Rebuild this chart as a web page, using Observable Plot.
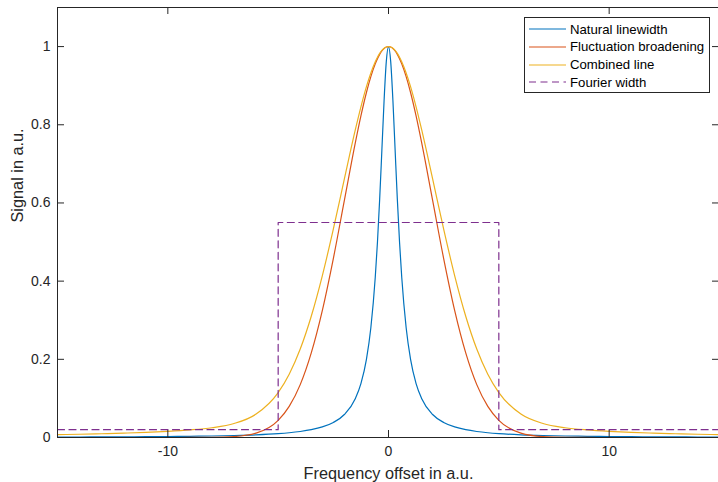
<!DOCTYPE html>
<html><head><meta charset="utf-8">
<script src="https://cdn.jsdelivr.net/npm/d3@7"></script>
<script src="https://cdn.jsdelivr.net/npm/@observablehq/plot@0.6"></script>
<style>
html,body{margin:0;padding:0;background:#fff;overflow:hidden}
#wrap{position:relative;width:718px;height:482px;overflow:hidden}
#legend{position:absolute;left:524px;top:17px;width:184px;height:74px;border:1px solid #262626;background:#fff;font:13.2px "Liberation Sans",Arial,sans-serif;color:#000}
.row{position:absolute;left:4px;height:18px;display:flex;align-items:center;white-space:nowrap}
.row svg{margin-right:4px}
</style></head><body><div id="wrap"></div>
<script>
// ---- data ----
const freq = [-15,-14,-13,-12,-11,-10,-9,-8,-7,-6,-5,-4.5,-4,-3.5,-3,-2.5,-2,-1.5,-1.25,-1,-0.8,-0.6,-0.5,-0.4,-0.3,-0.2,-0.1,0,
  0.1,0.2,0.3,0.4,0.5,0.6,0.8,1,1.25,1.5,2,2.5,3,3.5,4,4.5,5,6,7,8,9,10,11,12,13,14,15];
const naturalLinewidth = [0.0011,0.0013,0.0015,0.0017,0.0021,0.0025,0.0031,0.0039,0.0051,0.0069,0.0099,0.0122,0.0154,0.0200,0.0270,0.0385,0.0588,0.1000,0.1379,0.2000,0.2809,0.4098,0.5000,0.6098,0.7353,0.8621,0.9615,1,
  0.9615,0.8621,0.7353,0.6098,0.5000,0.4098,0.2809,0.2000,0.1379,0.1000,0.0588,0.0385,0.0270,0.0200,0.0154,0.0122,0.0099,0.0069,0.0051,0.0039,0.0031,0.0025,0.0021,0.0017,0.0015,0.0013,0.0011];
const fluctuationBroadening = [0,0,0,0,0,0,0.0001,0.0003,0.0022,0.0111,0.0439,0.0796,0.1353,0.2165,0.3247,0.4578,0.6065,0.7548,0.8226,0.8825,0.9231,0.9560,0.9692,0.9802,0.9888,0.9950,0.9988,1,
  0.9988,0.9950,0.9888,0.9802,0.9692,0.9560,0.9231,0.8825,0.8226,0.7548,0.6065,0.4578,0.3247,0.2165,0.1353,0.0796,0.0439,0.0111,0.0022,0.0003,0.0001,0,0,0,0,0,0];
const combinedLine = [0.0073,0.0083,0.0096,0.0112,0.0132,0.0158,0.0194,0.0250,0.0357,0.0599,0.1149,0.1619,0.2263,0.3102,0.4136,0.5330,0.6615,0.7880,0.8458,0.8974,0.9326,0.9612,0.9728,0.9825,0.9901,0.9956,0.9989,1,
  0.9989,0.9956,0.9901,0.9825,0.9728,0.9612,0.9326,0.8974,0.8458,0.7880,0.6615,0.5330,0.4136,0.3102,0.2263,0.1619,0.1149,0.0599,0.0357,0.0250,0.0194,0.0158,0.0132,0.0112,0.0096,0.0083,0.0073];
const fourierX = [-15,-5,-5,5,5,15];
const fourierY = [0.02,0.02,0.55,0.55,0.02,0.02];
const seriesNames = ["Natural linewidth","Fluctuation broadening","Combined line","Fourier width"];
const xTicks = [-10,0,10];
const yTicks = [0,0.2,0.4,0.6,0.8,1];
const xLabel = "Frequency offset in a.u.";
const yLabel = "Signal in a.u.";

// ---- styles ----
const colors = ["#0072BD","#D95319","#EDB120","#7E2F8E"];
const axisColor = "#262626";
const font = '"Liberation Sans", Arial, sans-serif';

const curves = [naturalLinewidth, fluctuationBroadening, combinedLine];
const table = [];
curves.forEach((vals, k) => freq.forEach((x, i) => table.push({x, y: vals[i], s: seriesNames[k]})));
const fourier = fourierX.map((x, i) => ({x, y: fourierY[i]}));

const W = 718, H = 482, mL = 57, mT = 7, mB = 45, mR = -1;
const fw = W - mL - mR, fh = H - mT - mB, tl = 7;

const plot = Plot.plot({
  width: W, height: H,
  marginLeft: mL, marginTop: mT, marginBottom: mB, marginRight: mR,
  style: {fontFamily: font, fontSize: "14px", color: axisColor, background: "#fff"},
  x: {domain: [-15, 15]},
  y: {domain: [0, 1.1]},
  color: {domain: seriesNames, range: colors},
  marks: [
    Plot.line(table, {x: "x", y: "y", z: "s", stroke: "s", curve: "monotone-x", strokeWidth: 1.2}),
    Plot.line(fourier, {x: "x", y: "y", stroke: colors[3], strokeWidth: 1.2, strokeDasharray: "7,4.5"}),
    Plot.frame({stroke: axisColor, strokeWidth: 1}),
    Plot.tickX(xTicks, {x: d => d, insetTop: fh - tl, stroke: axisColor}),
    Plot.tickX(xTicks, {x: d => d, insetBottom: fh - tl, stroke: axisColor}),
    Plot.tickY(yTicks, {y: d => d, insetRight: fw - tl, stroke: axisColor}),
    Plot.tickY(yTicks, {y: d => d, insetLeft: fw - tl, stroke: axisColor}),
    Plot.axisX({ticks: xTicks, tickSize: 0, tickPadding: 9, tickFormat: d => String(d), label: null, fontSize: 14}),
    Plot.axisY({ticks: yTicks, tickSize: 0, tickPadding: 7, tickFormat: d => String(d), label: null, fontSize: 14}),
    Plot.text([xLabel], {frameAnchor: "bottom", dy: 36, text: d => d, fontSize: 16.3, fill: axisColor, lineAnchor: "middle"}),
    Plot.text([yLabel], {frameAnchor: "left", dx: -40, rotate: -90, text: d => d, fontSize: 16.3, fill: axisColor, lineAnchor: "middle"})
  ]
});

const wrap = document.getElementById("wrap");
wrap.appendChild(plot);

// legend
const legend = document.createElement("div");
legend.id = "legend";
seriesNames.forEach((name, i) => {
  const row = document.createElement("div");
  row.className = "row";
  row.style.top = (2 + i * 17.8) + "px";
  const dash = i === 3 ? 'stroke-dasharray="7,4.5"' : '';
  row.innerHTML = `<svg width="37" height="4"><line x1="0" y1="2" x2="37" y2="2" stroke="${colors[i]}" stroke-width="1.2" ${dash}/></svg><span>${name}</span>`;
  legend.appendChild(row);
});
wrap.appendChild(legend);
</script>
</body></html>
